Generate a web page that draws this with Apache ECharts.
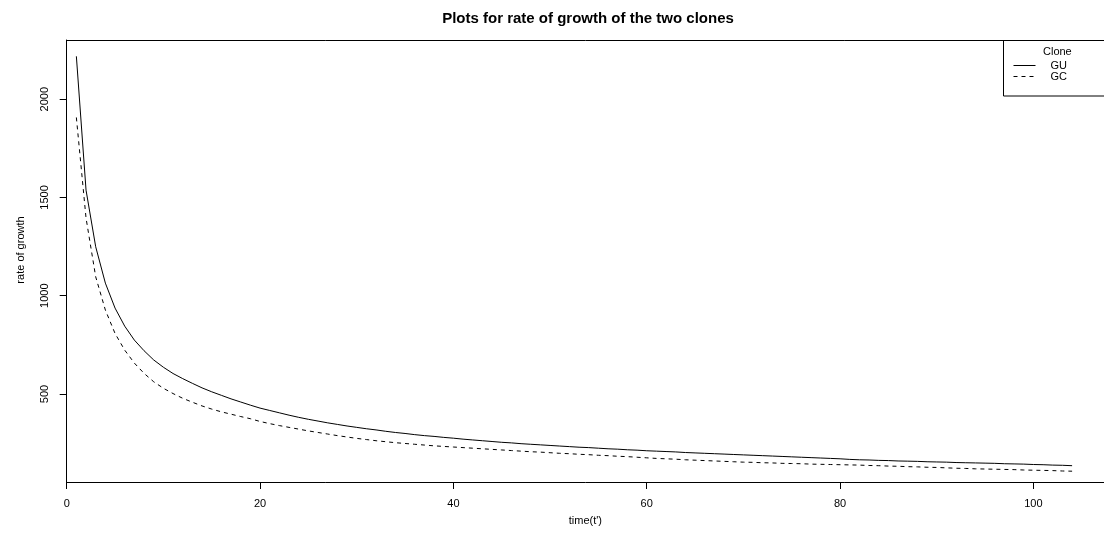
<!DOCTYPE html>
<html>
<head>
<meta charset="utf-8">
<script src="https://cdn.jsdelivr.net/npm/echarts@6/dist/echarts.min.js"></script>
<style>html,body{margin:0;padding:0;background:#fff}#c{width:1104px;height:539px}</style>
</head>
<body>
<div id="c"></div>
<script>
const titleText = "Plots for rate of growth of the two clones";
const xName = "time(t')";
const yName = "rate of growth";
const legendTitle = "Clone";
const seriesNames = ["GU", "GC"];
const xTicks = [0, 20, 40, 60, 80, 100];
const yTicks = [500, 1000, 1500, 2000];
const time = [];
for (let t = 1; t <= 104; t++) time.push(t);
const GU = [2218,1537,1249,1064,937,845,774,720,673,636,604,578,554,531,511,493,475,459,443,428,
416,404,392,381,371,362,353,345,337,330,323,317,310,304,299,293,288,284,279,275,
270,266,262,258,254,251,247,244,241,238,235,232,229,227,224,221,219,216,214,211,
209,207,205,202,200,198,196,194,192,190,188,186,184,182,180,178,176,174,172,170,
167,165,164,162,161,159,158,157,155,154,153,151,150,149,148,147,145,144,143,141,
140,138,137,135];
const GC = [1907,1395,1096,927,808,723,657,605,562,529,502,478,458,439,423,409,397,385,374,360,
349,339,330,321,312,304,296,288,281,274,268,262,257,252,248,244,240,236,233,230,
227,224,221,218,215,212,209,206,204,201,198,196,193,191,188,186,183,181,178,175,
172,170,168,165,163,161,159,157,155,153,152,150,149,147,146,145,143,142,141,140,
139,138,136,135,133,132,130,129,127,126,124,122,121,119,118,117,116,115,113,112,
111,110,108,107];

const FONT = "Liberation Sans, Arial, sans-serif";
const chart = echarts.init(document.getElementById('c'), null, {renderer: 'canvas'});
chart.setOption({
  backgroundColor: '#fff',
  animation: false,
  title: {
    text: titleText, left: 583, top: 6, textAlign: 'center',
    textStyle: {fontFamily: FONT, fontSize: 15, fontWeight: 'bold', color: '#000'}
  },
  grid: {left: 66.7, top: 40, right: 0, bottom: 57, show: false},
  xAxis: [{
    type: 'value', min: 0, max: 107.3,
    name: xName, nameLocation: 'middle', nameGap: 33,
    nameTextStyle: {fontFamily: FONT, fontSize: 11, color: '#000'},
    axisLine: {show: true, onZero: false, lineStyle: {color: '#000', width: 1}},
    axisTick: {show: true, length: 7, lineStyle: {color: '#000'}, customValues: xTicks},
    axisLabel: {fontFamily: FONT, fontSize: 11, color: '#000', margin: 16, customValues: xTicks},
    splitLine: {show: false}
  }, {
    type: 'value', min: 0, max: 107.3, position: 'top',
    axisLine: {show: true, onZero: false, lineStyle: {color: '#000', width: 1}},
    axisTick: {show: false}, axisLabel: {show: false}, splitLine: {show: false}
  }],
  yAxis: {
    type: 'value', min: 52, max: 2301,
    name: yName, nameLocation: 'middle', nameGap: 40,
    nameTextStyle: {fontFamily: FONT, fontSize: 11, color: '#000', padding: [0, 0, 0, 22]},
    axisLine: {show: true, lineStyle: {color: '#000', width: 1}},
    axisTick: {show: true, length: 7, lineStyle: {color: '#000'}, customValues: yTicks},
    axisLabel: {fontFamily: FONT, fontSize: 11, color: '#000', rotate: 90, margin: 16, customValues: yTicks,
      formatter: v => String(v)},
    splitLine: {show: false}
  },
  legend: {
    orient: 'vertical', left: 1013, top: 60, itemWidth: 22, itemHeight: 9, itemGap: 0,
    padding: 0,
    itemStyle: {opacity: 0},
    lineStyle: {width: 1, color: '#000'},
    textStyle: {fontFamily: FONT, fontSize: 11, color: '#000', padding: [0, 0, 0, 10]},
    data: seriesNames
  },
  graphic: [
    {type: 'rect', shape: {x: 1003.5, y: 40.5, width: 120, height: 55.5}, style: {fill: 'transparent', stroke: '#000', lineWidth: 1}, z: 10},
    {type: 'text', left: 1043, top: 46, style: {text: legendTitle, font: '11px ' + FONT, fill: '#000'}, z: 10}
  ],
  series: [
    {name: seriesNames[0], type: 'line', data: time.map((t, i) => [t, GU[i]]), symbol: 'none', lineStyle: {color: '#000', width: 1, type: 'solid'}, itemStyle: {color: '#000'}},
    {name: seriesNames[1], type: 'line', data: time.map((t, i) => [t, GC[i]]), symbol: 'none', lineStyle: {color: '#000', width: 1, type: [4, 4]}, itemStyle: {color: '#000'}}
  ]
});
</script>
</body>
</html>
